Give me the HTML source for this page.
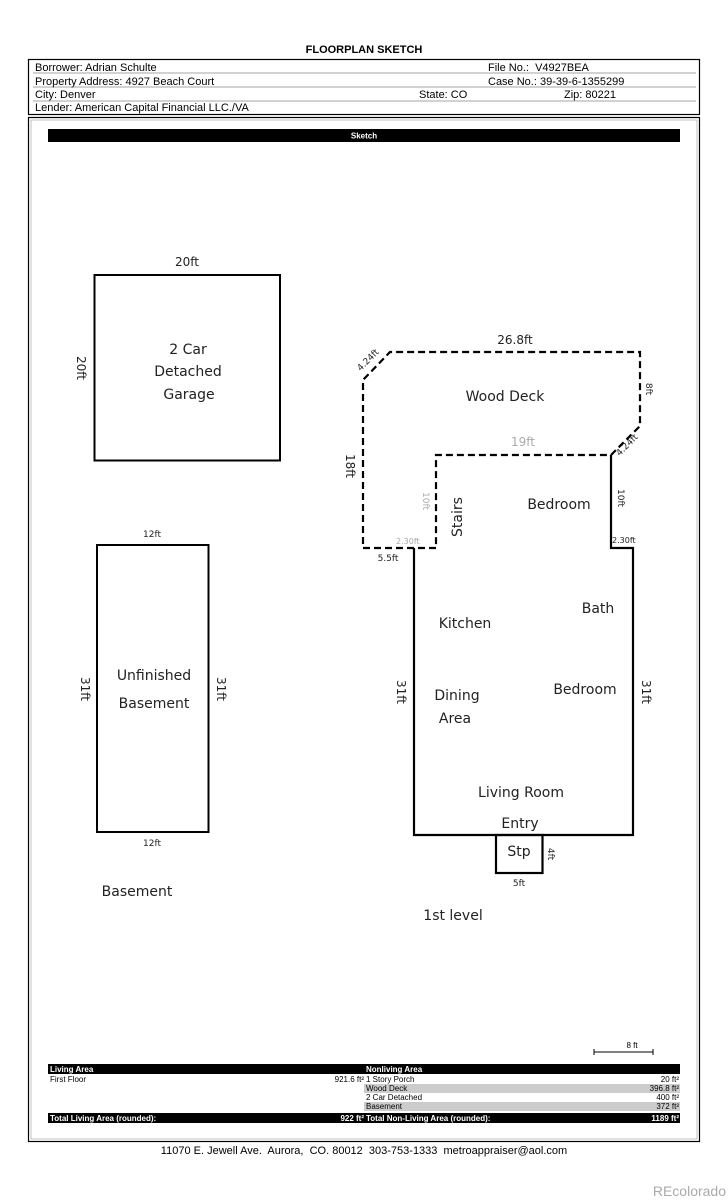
<!DOCTYPE html>
<html><head><meta charset="utf-8"><style>
body{margin:0;background:#fff;}
svg{display:block}
.h{font-family:"Liberation Sans Narrow","Liberation Sans",sans-serif;font-size:11px;fill:#000}
.r{font-family:"DejaVu Sans","Liberation Sans",sans-serif;font-size:14px;fill:#222}
.d{font-family:"DejaVu Sans","Liberation Sans",sans-serif;font-size:12px;fill:#222}
.s{font-family:"DejaVu Sans","Liberation Sans",sans-serif;font-size:9px;fill:#222}
.t{font-family:"Liberation Sans",sans-serif;font-size:8px;fill:#000}
.tw{font-family:"Liberation Sans",sans-serif;font-size:8px;fill:#fff;font-weight:bold}
</style></head><body>
<svg width="728" height="1200" viewBox="0 0 728 1200" xmlns="http://www.w3.org/2000/svg">
<text x="364" y="53" text-anchor="middle" style="font-family:'Liberation Sans',sans-serif;font-size:11px;font-weight:bold">FLOORPLAN SKETCH</text>
<rect x="28.5" y="59.5" width="671" height="55" fill="none" stroke="#000" stroke-width="1.2"/>
<g stroke="#888" stroke-width="0.8">
<line x1="33" y1="73" x2="696" y2="73"/><line x1="33" y1="87" x2="696" y2="87"/><line x1="33" y1="101" x2="696" y2="101"/></g>
<text class="h" x="35" y="71">Borrower: Adrian Schulte</text>
<text class="h" x="488" y="71">File No.:&#160; V4927BEA</text>
<text class="h" x="35" y="85">Property Address: 4927 Beach Court</text>
<text class="h" x="488" y="85">Case No.: 39-39-6-1355299</text>
<text class="h" x="35" y="98">City: Denver</text>
<text class="h" x="419" y="98">State: CO</text>
<text class="h" x="564" y="98">Zip: 80221</text>
<text class="h" x="35" y="111">Lender: American Capital Financial LLC./VA</text>
<rect x="28.5" y="117.5" width="671" height="1024" fill="none" stroke="#000" stroke-width="1.2"/>
<rect x="31" y="120" width="666" height="1019" fill="none" stroke="#999" stroke-width="0.6"/>
<rect x="48" y="129" width="632" height="13" fill="#000"/>
<text class="tw" x="364" y="138.5" text-anchor="middle">Sketch</text>

<rect x="94.5" y="275" width="185.5" height="185.5" fill="none" stroke="#000" stroke-width="2"/>
<text class="d" x="187" y="266" text-anchor="middle">20ft</text>
<text class="d" transform="translate(77,368) rotate(90)" text-anchor="middle">20ft</text>
<text class="r" x="188" y="354" text-anchor="middle">2 Car</text>
<text class="r" x="188" y="376" text-anchor="middle">Detached</text>
<text class="r" x="189" y="399" text-anchor="middle">Garage</text>

<rect x="97" y="545" width="111.5" height="287" fill="none" stroke="#000" stroke-width="2"/>
<text class="s" x="152" y="537" text-anchor="middle">12ft</text>
<text class="s" x="152" y="846" text-anchor="middle">12ft</text>
<text class="d" transform="translate(81,689) rotate(90)" text-anchor="middle">31ft</text>
<text class="d" transform="translate(217,689) rotate(90)" text-anchor="middle">31ft</text>
<text class="r" x="154" y="680" text-anchor="middle">Unfinished</text>
<text class="r" x="154" y="708" text-anchor="middle">Basement</text>
<text class="r" x="137" y="896" text-anchor="middle">Basement</text>

<path d="M436,548 L363,548 L363,380 L390,352 L640,352 L640,426 L611,455 L436,455 L436,548" fill="none" stroke="#000" stroke-width="2.2" stroke-dasharray="7,4"/>
<text class="d" x="515" y="344" text-anchor="middle">26.8ft</text>
<text class="s" transform="translate(370,362) rotate(-45)" text-anchor="middle">4.24ft</text>
<text class="s" transform="translate(629,447) rotate(-45)" text-anchor="middle">4.24ft</text>
<text class="s" transform="translate(646,389) rotate(90)" text-anchor="middle">8ft</text>
<text class="d" transform="translate(346,466) rotate(90)" text-anchor="middle">18ft</text>
<text class="d" x="523" y="446" text-anchor="middle" style="fill:#aaa">19ft</text>
<text class="s" transform="translate(423,501) rotate(90)" text-anchor="middle" style="fill:#aaa">10ft</text>
<text class="s" x="396" y="544" style="fill:#aaa;font-size:8px">2.30ft</text>
<text class="r" x="505" y="401" text-anchor="middle">Wood Deck</text>
<text class="s" x="388" y="561" text-anchor="middle">5.5ft</text>

<path d="M414,548 L414,835 L633,835 L633,548 L611,548 L611,455" fill="none" stroke="#000" stroke-width="2.2"/>
<rect x="496" y="835" width="46.5" height="38" fill="none" stroke="#000" stroke-width="2.2"/>
<text class="s" transform="translate(618,498) rotate(90)" text-anchor="middle">10ft</text>
<text class="s" x="612" y="543" style="font-size:8px">2.30ft</text>
<text class="d" transform="translate(397,692) rotate(90)" text-anchor="middle">31ft</text>
<text class="d" transform="translate(642,692) rotate(90)" text-anchor="middle">31ft</text>
<text class="s" transform="translate(548,854) rotate(90)" text-anchor="middle">4ft</text>
<text class="s" x="519" y="886" text-anchor="middle">5ft</text>
<text class="r" transform="translate(462,517) rotate(-90)" text-anchor="middle">Stairs</text>
<text class="r" x="559" y="509" text-anchor="middle">Bedroom</text>
<text class="r" x="598" y="613" text-anchor="middle">Bath</text>
<text class="r" x="465" y="628" text-anchor="middle">Kitchen</text>
<text class="r" x="585" y="694" text-anchor="middle">Bedroom</text>
<text class="r" x="457" y="700" text-anchor="middle">Dining</text>
<text class="r" x="455" y="723" text-anchor="middle">Area</text>
<text class="r" x="521" y="797" text-anchor="middle">Living Room</text>
<text class="r" x="520" y="828" text-anchor="middle">Entry</text>
<text class="r" x="519" y="856" text-anchor="middle">Stp</text>
<text class="r" x="453" y="920" text-anchor="middle">1st level</text>

<line x1="594" y1="1052" x2="653" y2="1052" stroke="#000" stroke-width="1"/>
<line x1="594" y1="1049" x2="594" y2="1055" stroke="#000"/><line x1="653" y1="1049" x2="653" y2="1055" stroke="#000"/>
<text class="t" x="632" y="1048" text-anchor="middle">8 ft</text>

<rect x="48" y="1064" width="632" height="10" fill="#000"/>
<text class="tw" x="50" y="1072">Living Area</text>
<text class="tw" x="366" y="1072">Nonliving Area</text>
<rect x="364" y="1084" width="316" height="9" fill="#ccc"/>
<rect x="364" y="1102" width="316" height="9" fill="#ccc"/>
<text class="t" x="50" y="1082">First Floor</text>
<text class="t" x="364" y="1082" text-anchor="end">921.6 ft²</text>
<text class="t" x="366" y="1082">1 Story Porch</text><text class="t" x="679" y="1082" text-anchor="end">20 ft²</text>
<text class="t" x="366" y="1091">Wood Deck</text><text class="t" x="679" y="1091" text-anchor="end">396.8 ft²</text>
<text class="t" x="366" y="1100">2 Car Detached</text><text class="t" x="679" y="1100" text-anchor="end">400 ft²</text>
<text class="t" x="366" y="1109">Basement</text><text class="t" x="679" y="1109" text-anchor="end">372 ft²</text>
<rect x="48" y="1113" width="632" height="10" fill="#000"/>
<text class="tw" x="50" y="1121">Total Living Area (rounded):</text>
<text class="tw" x="364" y="1121" text-anchor="end">922 ft²</text>
<text class="tw" x="366" y="1121">Total Non-Living Area (rounded):</text>
<text class="tw" x="679" y="1121" text-anchor="end">1189 ft²</text>

<text x="364" y="1154" text-anchor="middle" style="font-family:'Liberation Sans',sans-serif;font-size:11px">11070 E. Jewell Ave.&#160; Aurora,&#160; CO. 80012&#160; 303-753-1333&#160; metroappraiser@aol.com</text>
<text x="726" y="1196" text-anchor="end" style="font-family:'Liberation Sans',sans-serif;font-size:14px;fill:#aaa">REcolorado</text>
</svg>
</body></html>
